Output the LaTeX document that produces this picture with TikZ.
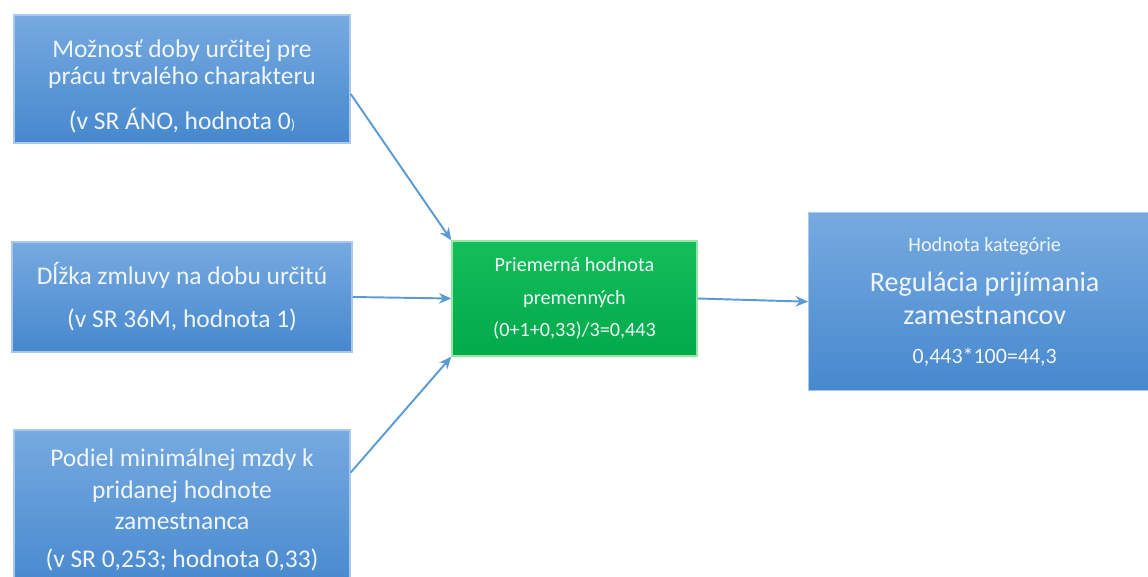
\documentclass[tikz,border=0pt]{standalone}
\usepackage{fontspec}
\setmainfont{Carlito}
\usetikzlibrary{arrows.meta,calc}
\definecolor{bluetop}{RGB}{118,170,224}
\definecolor{bluebot}{RGB}{70,136,206}
\definecolor{blueedge}{RGB}{170,200,235}
\definecolor{greentop}{RGB}{20,190,90}
\definecolor{greenbot}{RGB}{0,170,75}
\definecolor{greenedge}{RGB}{150,230,170}
\definecolor{arrowblue}{RGB}{91,155,213}
\definecolor{boxtext}{RGB}{240,245,250}
\tikzset{
  bluebox/.style={rectangle, top color=bluetop, bottom color=bluebot, draw=blueedge, line width=0.8pt,
    text=boxtext, align=center, inner sep=0pt},
  greenbox/.style={rectangle, top color=greentop, bottom color=greenbot, draw=greenedge, line width=0.8pt,
    text=boxtext, align=center, inner sep=0pt},
  conn/.style={draw=arrowblue, line width=1.1pt, -{Stealth[length=7pt,width=6pt]}}
}
\begin{document}
\begin{tikzpicture}[x=0.02cm,y=-0.02cm]
\clip (0,0) rectangle (1148,577);
\useasboundingbox (0,0) rectangle (1148,577);
\fill[white] (0,0) rectangle (1148,577);
\node[bluebox, minimum width=336*0.02cm, minimum height=128*0.02cm,
  font=\fontsize{14.5}{15.5}\selectfont] (b1) at (182,79)
  {\rule{0pt}{18pt}Možnosť doby určitej pre\\ prácu trvalého charakteru\\[10pt] (v SR ÁNO, hodnota 0{\footnotesize)}};
\node[bluebox, minimum width=340*0.02cm, minimum height=110*0.02cm,
  font=\fontsize{14.5}{15.5}\selectfont] (b2) at (182,297)
  {Dĺžka zmluvy na dobu určitú\\[9pt] (v SR 36M, hodnota 1)};
\node[bluebox, minimum width=336*0.02cm, minimum height=160*0.02cm,
  font=\fontsize{14.5}{18}\selectfont] (b3) at (182,510)
  {Podiel minimálnej mzdy k\\ pridanej hodnote\\ zamestnanca\\[3.5pt] (v SR 0,253; hodnota 0,33)};
\node[greenbox, minimum width=245*0.02cm, minimum height=115*0.02cm,
  font=\fontsize{11.5}{18.5}\selectfont] (g) at (574.5,298.5)
  {Priemerná hodnota\\ premenných\\ (0+1+0,33)/3=0,443};
\node[bluebox, minimum width=352*0.02cm, minimum height=178*0.02cm, anchor=north west,
  font=\fontsize{16}{19}\selectfont] (r) at (808,212)
  {{\fontsize{11.5}{12}\selectfont Hodnota kategórie}\\[4pt]
   Regulácia prijímania\\ zamestnancov\\[3pt]
   {\fontsize{12.5}{12}\selectfont 0,443*100=44,3}};
\draw[conn] ([yshift=-0.3cm]b1.east) -- (g.north west);
\draw[conn] (b2.east) -- (g.west);
\draw[conn] ([yshift=0.75cm]b3.east) -- (g.south west);
\draw[conn] (g.east) -- (r.west);
\end{tikzpicture}
\end{document}
